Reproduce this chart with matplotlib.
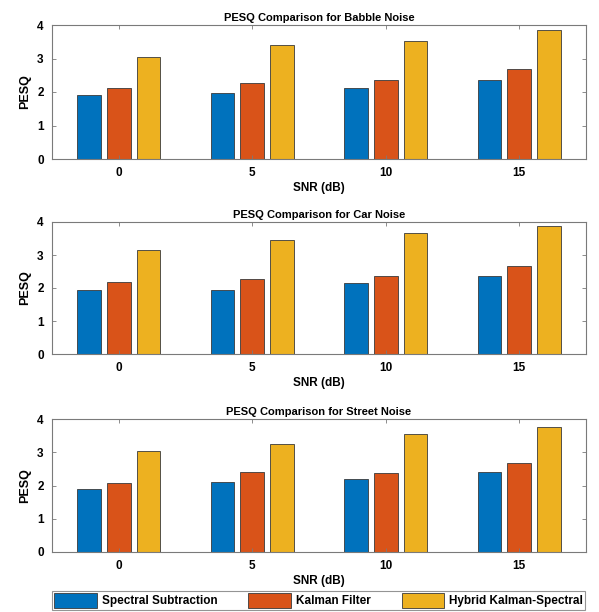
import numpy as np
import matplotlib
matplotlib.use("Agg")
import matplotlib.pyplot as plt

plt.rcParams['font.family'] = ['Liberation Sans', 'DejaVu Sans']
plt.rcParams['font.weight'] = 'bold'

snr = [0, 5, 10, 15]
methods = ["Spectral Subtraction", "Kalman Filter", "Hybrid Kalman-Spectral"]
noise_types = ["Babble", "Car", "Street"]

babble = [
    [1.91, 1.97, 2.12, 2.36],
    [2.13, 2.27, 2.36, 2.69],
    [3.03, 3.40, 3.52, 3.86],
]
car = [
    [1.93, 1.95, 2.14, 2.36],
    [2.19, 2.26, 2.36, 2.68],
    [3.14, 3.44, 3.67, 3.87],
]
street = [
    [1.89, 2.12, 2.21, 2.41],
    [2.08, 2.41, 2.38, 2.69],
    [3.05, 3.24, 3.54, 3.77],
]
all_data = [babble, car, street]

colors = ['#0072BD', '#D95319', '#EDB120']

W, H = 599, 612
fig = plt.figure(figsize=(W / 100, H / 100), dpi=100)

# axes boxes in pixels: (top, bottom)
boxes = [(25, 159), (222, 354), (419, 552)]
left_px, right_px = 52, 586

gray = '#7a7a7a'
bar_w = 0.89
offs = 1.11

for i, (top, bot) in enumerate(boxes):
    ax = fig.add_axes([left_px / W, 1 - bot / H, (right_px - left_px) / W, (bot - top) / H])
    data = all_data[i]
    x = np.array(snr, dtype=float)
    for j in range(3):
        ax.bar(x + (j - 1) * offs, data[j], width=bar_w, color=colors[j],
               edgecolor='#3a3a3a', linewidth=0.6, label=methods[j])
    ax.set_xlim(-2.5, 17.5)
    ax.set_ylim(0, 4)
    ax.set_xticks(snr)
    ax.set_yticks([0, 1, 2, 3, 4])
    ax.tick_params(direction='in', top=True, right=True, length=3, width=0.6,
                   color=gray, labelsize=8.5, pad=6)
    for s in ax.spines.values():
        s.set_color(gray)
        s.set_linewidth(0.8)
    ax.set_title("PESQ Comparison for %s Noise" % noise_types[i], fontsize=8,
                 fontweight='bold', pad=3)
    ax.set_xlabel("SNR (dB)", fontsize=8.5, fontweight='bold', labelpad=2)
    ax.set_ylabel("PESQ", fontsize=9, fontweight='bold', labelpad=4)
    if i == 2:
        handles, labels = ax.get_legend_handles_labels()

leg = fig.legend(handles, labels, loc='upper left', ncol=3, mode='expand',
                 bbox_to_anchor=(52 / W, 0, (585 - 52) / W, 1 - 591 / H),
                 fontsize=8.5, frameon=True, fancybox=False, borderaxespad=0,
                 handlelength=3.6, handleheight=1.5, borderpad=0.2,
                 columnspacing=1.0, handletextpad=0.4)
leg.get_frame().set_edgecolor(gray)
leg.get_frame().set_linewidth(0.8)
for t in leg.get_texts():
    t.set_fontweight('bold')

fig.savefig("out.png", dpi=100)
